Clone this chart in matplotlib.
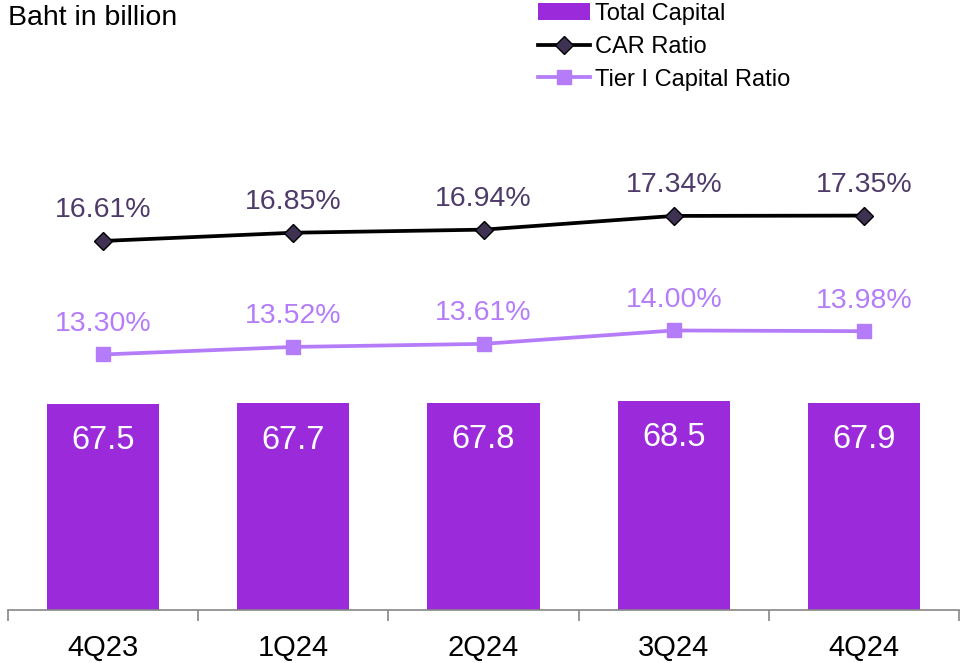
import matplotlib
matplotlib.use('Agg')
import numpy as np
from matplotlib import pyplot as plt

plt.rcParams['font.family'] = ['Liberation Sans', 'DejaVu Sans']

quarters = ['4Q23', '1Q24', '2Q24', '3Q24', '4Q24']
total_capital = [67.5, 67.7, 67.8, 68.5, 67.9]
car_ratio = [16.61, 16.85, 16.94, 17.34, 17.35]
tier1_ratio = [13.30, 13.52, 13.61, 14.00, 13.98]

bar_col = '#9A2ADA'
car_col = '#000000'
car_marker = '#3F3151'
car_text = '#4E3B6A'
tier_col = '#B57CF9'

fig = plt.figure(figsize=(9.63, 6.63), dpi=100)
# axes box in pixels: left 8, right 959, bottom 610, top 100
ax = fig.add_axes([8/963, 53/663, 951/963, 510/663])
x = np.arange(len(quarters))

bars = ax.bar(x, total_capital, width=0.59, color=bar_col, label='Total Capital', zorder=2)
ax.set_ylim(0, 167)
ax.set_xlim(-0.5, len(quarters) - 0.5)
for xi, v in zip(x, total_capital):
    ax.annotate(f'{v:.1f}', (xi, v), xytext=(0, -26.5), textcoords='offset points',
                ha='center', va='center', color='white', fontsize=23.5)

ax2 = ax.twinx()
ax2.set_ylim(5.85, 20.72)
l1, = ax2.plot(x, car_ratio, color=car_col, lw=2.7, marker='D', ms=9,
               mfc=car_marker, mec='black', mew=1, label='CAR Ratio')
l2, = ax2.plot(x, tier1_ratio, color=tier_col, lw=2.7, marker='s', ms=10,
               mfc=tier_col, mec=tier_col, label='Tier I Capital Ratio')
for xi, v in zip(x, car_ratio):
    ax2.annotate(f'{v:.2f}%', (xi, v), xytext=(0, 22), textcoords='offset points',
                 ha='center', va='center', color=car_text, fontsize=20.5)
for xi, v in zip(x, tier1_ratio):
    ax2.annotate(f'{v:.2f}%', (xi, v), xytext=(0, 22), textcoords='offset points',
                 ha='center', va='center', color=tier_col, fontsize=20.5)

# axis styling
for a in (ax, ax2):
    for s in ['top', 'left', 'right']:
        a.spines[s].set_visible(False)
    a.set_yticks([])
ax2.spines['bottom'].set_visible(False)
ax.spines['bottom'].set_color('#868686')
ax.spines['bottom'].set_linewidth(1.2)
ax.set_xticks(np.arange(-0.5, len(quarters)), minor=False)
ax.set_xticklabels([])
ax.tick_params(axis='x', which='major', length=8, color='#868686', width=1.2, direction='out')
ax.set_xticks(x, minor=True)
ax.set_xticklabels(quarters, minor=True, fontsize=21)
ax.tick_params(axis='x', which='minor', length=0, pad=17)

fig.text(8/963, 1 - 18/663, 'Baht in billion', fontsize=20.5, ha='left', va='center')

fig.legend(handles=[bars, l1, l2], loc='upper left', bbox_to_anchor=(538/963, 1 - 3/663),
           frameon=False, fontsize=17, borderpad=0, borderaxespad=0,
           handlelength=2.2, handletextpad=0.2, labelspacing=0.46)

fig.savefig('out.png', dpi=100)
